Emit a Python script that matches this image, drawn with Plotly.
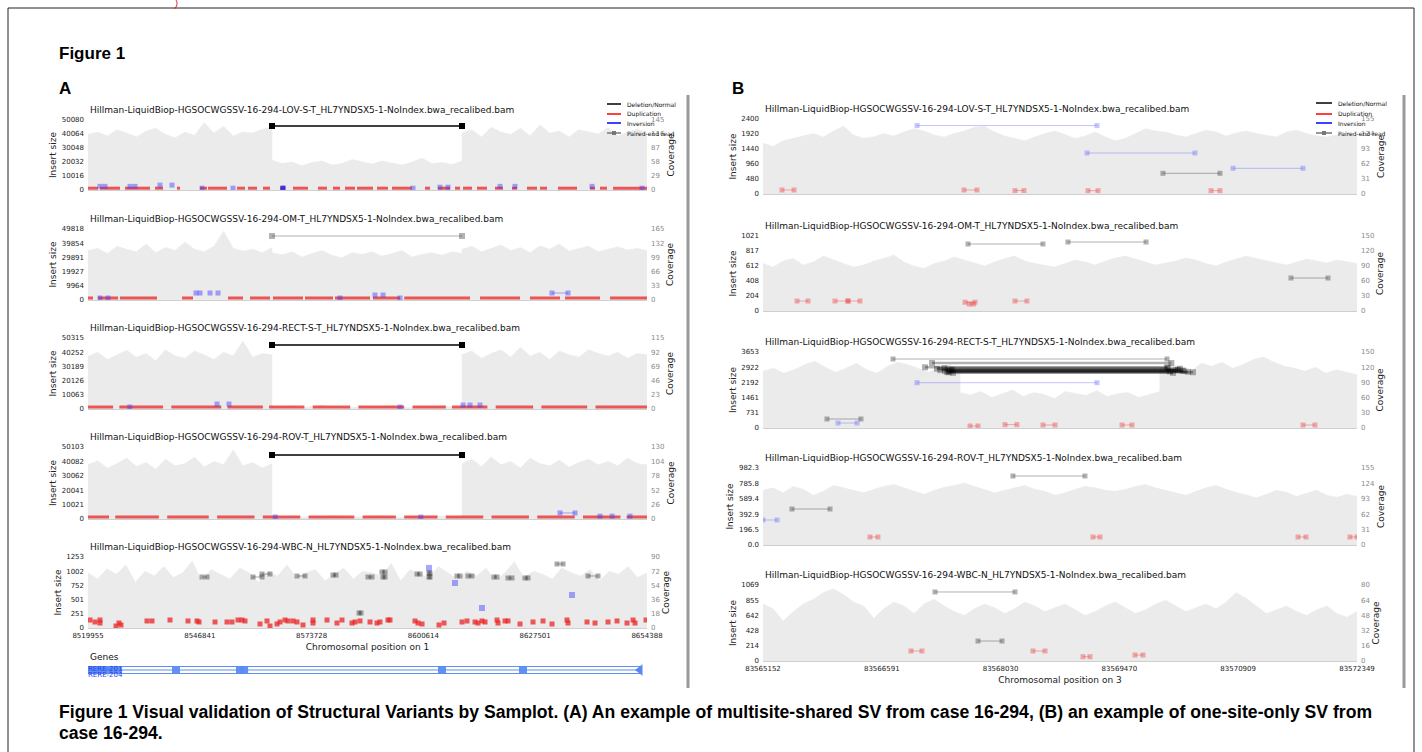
import plotly.graph_objects as go
import numpy as np

W, H = 1422, 752

# ---------------- data ----------------
NAME_PREFIX = "Hillman-LiquidBiop-HGSOCWGSSV-16-294-"
NAME_SUFFIX = "_HL7YNDSX5-1-NoIndex.bwa_recalibed.bam"
SAMPLES = ["LOV-S-T", "OM-T", "RECT-S-T", "ROV-T", "WBC-N"]

A_RANGE = [8519955, 8654388]
B_RANGE = [83565152, 83572349]
A_XTICKS = [8519955, 8546841, 8573728, 8600614, 8627501, 8654388]
B_XTICKS = [83565152, 83566591, 83568030, 83569470, 83570909, 83572349]

A_INS_TICKS = [[0, 10016, 20032, 30048, 40064, 50080],
               [0, 9964, 19927, 29891, 39854, 49818],
               [0, 10063, 20126, 30189, 40252, 50315],
               [0, 10021, 20041, 30062, 40082, 50103],
               [0, 251, 501, 752, 1002, 1253]]
A_COV_TICKS = [[0, 29, 58, 87, 116, 145],
               [0, 33, 66, 99, 132, 165],
               [0, 23, 46, 69, 92, 115],
               [0, 26, 52, 78, 104, 130],
               [0, 18, 36, 54, 72, 90]]
B_INS_TICKS = [[0, 480, 960, 1440, 1920, 2400],
               [0, 204, 408, 612, 817, 1021],
               [0, 731, 1461, 2192, 2922, 3653],
               [0.0, 196.5, 392.9, 589.4, 785.8, 982.3],
               [0, 214, 428, 642, 855, 1069]]
B_INS_LABELS = [None, None, None, ["0.0", "196.5", "392.9", "589.4", "785.8", "982.3"], None]
B_COV_TICKS = [[0, 31, 62, 93, 124, 155],
               [0, 30, 60, 90, 120, 150],
               [0, 30, 60, 90, 120, 150],
               [0, 31, 62, 93, 124, 155],
               [0, 16, 32, 48, 64, 80]]

# shared deletion in panel A
A_DEL = [8564207, 8609902]
A_DEL_INS = [45786, 44906, 45354, 44536]

# coverage (left of / inside / right of the deletion) for A1..A4
A_COV = [
    ([115, 120, 112, 125, 118, 110, 122, 128, 115, 108, 120, 113, 140, 118, 132, 112, 120, 118, 126, 130],
     [62, 55, 58, 50, 57, 60, 52, 55, 63, 58, 54, 60, 56, 52, 58, 66, 55, 57, 53, 60],
     [118, 125, 110, 130, 120, 115, 128, 112, 135, 118, 122, 110, 125, 120, 116, 130, 112, 120, 126, 118]),
    ([115, 120, 108, 125, 118, 112, 130, 110, 122, 115, 135, 118, 112, 125, 160, 120, 114, 118, 110, 122],
     [110, 105, 112, 100, 108, 115, 104, 98, 110, 106, 112, 102, 108, 115, 100, 106, 110, 104, 112, 108],
     [118, 125, 112, 120, 128, 115, 122, 110, 126, 118, 130, 114, 120, 125, 112, 118, 124, 116, 120, 115]),
    ([85, 92, 80, 88, 95, 84, 90, 78, 96, 86, 82, 94, 88, 80, 92, 86, 110, 84, 90, 88],
     [4, 3, 5, 2, 4, 6, 3, 4, 2, 5, 3, 4, 5, 3, 2, 4, 3, 5, 4, 3],
     [88, 94, 82, 90, 96, 84, 100, 86, 92, 80, 94, 88, 84, 96, 90, 86, 92, 82, 90, 88]),
    ([98, 105, 92, 100, 110, 95, 102, 90, 108, 96, 100, 112, 94, 104, 98, 125, 96, 102, 92, 100],
     [5, 4, 6, 3, 5, 4, 6, 5, 3, 4, 5, 6, 4, 3, 5, 4, 6, 5, 4, 5],
     [100, 108, 95, 112, 98, 104, 92, 110, 100, 96, 106, 94, 102, 108, 98, 104, 96, 110, 100, 98]),
]
A5_COV = [70, 62, 75, 68, 80, 58, 72, 66, 78, 64, 70, 85, 60, 74, 68, 62, 76, 70, 58, 72,
          66, 80, 64, 70, 74, 60, 68, 76, 62, 72, 70, 66, 82, 60, 74, 68, 64, 78, 70, 62,
          72, 66, 76, 60, 70, 84, 64, 72, 68, 62, 76, 70, 66, 74, 60, 72, 68, 78, 64, 70]

# base rows of short reads (start, end) in A1..A4
A_BASE_INS = [1300, 1400, 1400, 1400]
A_BASE_SEGS = [
    [(8519955, 8522360), (8522841, 8527651), (8528854, 8534866), (8536069, 8537993), (8541360, 8542081),
     (8546891, 8548575), (8548815, 8553385), (8555790, 8557714), (8558435, 8560600), (8562043, 8563726),
     (8566131, 8567334), (8569258, 8572865), (8575270, 8577435), (8578878, 8580561), (8581764, 8584169),
     (8584650, 8588498), (8589460, 8592105), (8593067, 8597877), (8601004, 8602206), (8604130, 8607016),
     (8608219, 8609421), (8610143, 8612307), (8613509, 8615915), (8617838, 8619762), (8621927, 8623129),
     (8625534, 8627940), (8628661, 8630345), (8632990, 8637560), (8640686, 8641889), (8643091, 8644775),
     (8646218, 8654395)],
    [(8519955, 8521157), (8522360, 8527170), (8527651, 8536550), (8542562, 8545208), (8553625, 8557233),
     (8558916, 8563726), (8564448, 8571663), (8572144, 8578878), (8579359, 8587776), (8588498, 8594991),
     (8596000, 8611826), (8614231, 8623851), (8626256, 8633471), (8634674, 8643091), (8645496, 8654395)],
    [(8519955, 8526000), (8527500, 8538000), (8540000, 8552000), (8553500, 8562000), (8563500, 8572000),
     (8574000, 8583000), (8585000, 8596000), (8598000, 8606000), (8607500, 8616000), (8618000, 8627000),
     (8629000, 8640000), (8642000, 8654395)],
    [(8519955, 8525000), (8526500, 8537000), (8539000, 8549000), (8551000, 8560000), (8562000, 8571000),
     (8573000, 8584000), (8586000, 8594000), (8596000, 8604000), (8606000, 8615000), (8617000, 8626000),
     (8628000, 8637000), (8639000, 8648000), (8649500, 8654395)],
]
# inversion reads (x, insert) in A1..A4
A_INV_PTS = [
    [(8522841, 2600), (8524044, 2600), (8530056, 2600), (8531258, 2600), (8537271, 3500), (8540157, 3500),
     (8547372, 1300), (8554828, 1300), (8566853, 1300), (8598118, 1300), (8604611, 2000), (8606535, 2000),
     (8619041, 2600), (8622649, 2600), (8641167, 2600), (8653192, 1300)],
    [(8545929, 4900), (8546891, 4900), (8549296, 4900), (8551220, 4900), (8588979, 3500), (8590903, 3500),
     (8522841, 1400), (8524765, 1400), (8580561, 1400), (8594991, 1400)],
    [(8550980, 3500), (8553866, 3500), (8610143, 2800), (8611826, 2800), (8614231, 2800), (8594991, 1400),
     (8530000, 1400)],
    [(8643091, 2000), (8646000, 2000), (8650300, 2000), (8600000, 1400), (8565000, 1400)],
]
A_INV_PAIRS = [[], [(8631547, 8635395, 4900)], [], [(8633471, 8637079, 4200)]]

# A5 (WBC-N)
A5_DUP_X = [8520436, 8521639, 8522841, 8522841, 8526689, 8527411, 8527892, 8534145, 8535347, 8539676,
            8544005, 8546170, 8546651, 8550499, 8553385, 8554587, 8556030, 8556992, 8557714, 8561321,
            8563005, 8563726, 8565410, 8566131, 8567334, 8568055, 8569258, 8570220, 8571663, 8574068,
            8574068, 8577435, 8579840, 8581042, 8583447, 8584169, 8585371, 8587776, 8589460, 8590181,
            8592105, 8592586, 8598599, 8599320, 8600282, 8604371, 8605573, 8609902, 8611105, 8613029,
            8613750, 8614712, 8615434, 8618320, 8618560, 8620244, 8620965, 8623851, 8626978, 8629383,
            8631547, 8635155, 8635395, 8639965, 8641889, 8645015, 8647180, 8649585, 8651028, 8651509,
            8654154]
A5_DUP_Y = [141, 106, 141, 88, 35, 88, 53, 124, 124, 141, 124, 124, 106, 106, 106, 106, 141, 141, 124, 71,
            124, 35, 71, 106, 141, 124, 124, 106, 53, 141, 88, 141, 88, 141, 88, 106, 124, 106, 88, 106,
            141, 141, 124, 88, 71, 53, 88, 106, 124, 106, 88, 124, 106, 141, 88, 124, 124, 71, 106, 124,
            71, 141, 88, 106, 88, 106, 124, 88, 141, 88, 141]
A5_PE = [(8547372, 8548575, 900), (8559638, 8561802, 900), (8561802, 8563726, 953), (8570220, 8572144, 918),
         (8578878, 8579600, 935), (8587295, 8588257, 900), (8590662, 8591384, 988), (8590900, 8591384, 900),
         (8599080, 8599801, 953), (8601966, 8602206, 970), (8601966, 8602206, 900), (8608700, 8609421, 918),
         (8611345, 8612307, 918), (8617598, 8618320, 900), (8620965, 8621927, 883), (8625054, 8625775, 883),
         (8632750, 8634193, 1130), (8640205, 8642610, 918), (8585130, 8585610, 265)]
A5_INV = [(8601966, 1060), (8608219, 794), (8614712, 353), (8636357, 582)]

# genes track (panel A)
GENE_SPAN = [8519955, 8652711]
GENE_EXONS = [8520400, 8521500, 8522600, 8523700, 8524800, 8526000, 8527200,
              8541119, 8556500, 8557500, 8605092, 8624573]
GENE_LABEL = "RERE-218"
GENE_LABEL_POS = 8556000

# panel B coverage
B_COV = [
    [105, 98, 110, 115, 120, 125, 118, 130, 140, 122, 115, 118, 125, 120, 128, 135, 130, 122, 118, 125,
     130, 138, 140, 128, 120, 115, 110, 118, 125, 130, 122, 115, 120, 128, 118, 110, 115, 125, 135, 130,
     128, 122, 118, 125, 132, 128, 120, 126, 130, 125, 122, 118, 128, 132, 125, 120, 118, 122, 126, 120],
    [95, 88, 100, 105, 92, 98, 110, 102, 95, 88, 92, 100, 105, 112, 98, 90, 85, 95, 100, 108,
     102, 96, 90, 98, 105, 110, 100, 95, 92, 88, 95, 102, 98, 92, 100, 106, 110, 104, 98, 92,
     96, 100, 106, 102, 95, 90, 98, 104, 110, 105, 100, 96, 92, 98, 104, 100, 96, 102, 98, 95],
    None,
    [110, 115, 105, 118, 112, 100, 108, 120, 115, 110, 105, 112, 118, 122, 115, 108, 102, 110, 116, 120,
     125, 118, 112, 105, 110, 115, 120, 112, 108, 100, 105, 112, 118, 115, 110, 108, 112, 118, 122, 115,
     110, 105, 100, 108, 115, 120, 112, 106, 100, 95, 102, 110, 106, 98, 104, 110, 100, 96, 102, 98],
    [60, 55, 42, 52, 60, 65, 72, 76, 70, 62, 58, 45, 55, 62, 58, 50, 60, 65, 58, 52,
     48, 55, 60, 56, 50, 55, 62, 58, 52, 56, 60, 54, 48, 52, 58, 62, 56, 50, 54, 60,
     64, 58, 52, 56, 60, 55, 62, 72, 66, 58, 50, 54, 58, 52, 48, 54, 58, 50, 46, 52],
]
B3_BREAKS = [83567540, 83569960]
B3_COV = ([112, 118, 108, 115, 125, 132, 120, 110, 118, 128, 115, 108, 122, 130, 125, 118, 110, 120, 125, 112],
          [70, 65, 72, 60, 68, 75, 62, 70, 66, 58, 72, 68, 64, 74, 62, 68, 70, 60, 66, 72],
          [118, 125, 120, 112, 128, 122, 130, 118, 125, 135, 140, 130, 122, 118, 112, 120, 108, 115, 110, 105])

# panel B read pairs: (start, end, insert)
B_DEL = [[(83569998, 83570689, 662)],
         [(83567636, 83568544, 912), (83568847, 83569793, 939), (83571549, 83571998, 449)],
         [(83566727, 83570047, 3317), (83565927, 83566339, 433)],
         [(83565503, 83565964, 459), (83568180, 83569053, 880)],
         [(83567236, 83568205, 971), (83567757, 83568048, 281)]]
B_INV = [[(83567018, 83569199, 2190), (83569078, 83570386, 1312), (83570847, 83571695, 822)],
         [],
         [(83567018, 83569199, 2178), (83566061, 83566291, 240)],
         [(83565152, 83565322, 319)],
         []]
B_DUP = [[(83565382, 83565528, 128), (83567587, 83567745, 128), (83568205, 83568314, 110),
          (83569090, 83569211, 106), (83570580, 83570689, 106)],
         [(83565564, 83565697, 136), (83566024, 83566182, 136), (83566182, 83566327, 136),
          (83567600, 83567721, 120), (83567650, 83567700, 95), (83568205, 83568350, 136)],
         [(83567660, 83567757, 96), (83568084, 83568229, 160), (83568544, 83568690, 144),
          (83569502, 83569623, 144), (83571695, 83571840, 144)],
         [(83566448, 83566545, 102), (83569150, 83569235, 102), (83571634, 83571731, 102),
          (83572264, 83572349, 102)],
         [(83566945, 83567078, 141), (83568423, 83568569, 141), (83569029, 83569114, 60),
          (83569659, 83569756, 84)]]
# dense deletion-supporting band in B3 (RECT-S-T)
B3_BAND_START = [83567115, 83567200, 83567260, 83567300, 83567357, 83567380, 83567400, 83567420,
                 83567454, 83567440, 83567410, 83567350]
B3_BAND_END = [83570047, 83570100, 83570204, 83570150, 83570250, 83570300, 83570362, 83570080,
               83570120, 83570180, 83570230, 83570060]
B3_BAND_INS = [2918, 3125, 2850, 2780, 2750, 2700, 2680, 2720, 2650, 2800, 2760, 2880]

CAPTION_1 = ("Figure 1 Visual validation of Structural Variants by Samplot. (A) An example of multisite-shared "
             "SV from case 16-294, (B) an example of one-site-only SV from")
CAPTION_2 = "case 16-294."

# ---------------- layout geometry (pixels) ----------------
A_PX = (88, 647)
B_PX = (763, 1357)
A_ROWS = [(120, 190), (229, 300), (338, 409), (447, 519), (557, 628)]
B_ROWS = [(119, 194), (236, 311), (352, 428), (468, 545), (585, 661)]

FONT = "DejaVu Sans"
COV_FILL = "#ebebeb"
RED = "rgba(235,35,35,0.75)"
RED_L = "rgba(235,60,60,0.4)"
BLUE = "rgba(60,60,255,0.45)"
BLUE_D = "rgba(40,40,230,0.8)"
GRAY = "rgba(40,40,40,0.4)"


def ref(prefix, i):
    return prefix if i == 1 else f"{prefix}{i}"


fig = go.Figure()
layout = dict(width=W, height=H, margin=dict(l=0, r=0, t=0, b=0, pad=0, autoexpand=False),
              paper_bgcolor="white", plot_bgcolor="white", showlegend=False,
              font=dict(family=FONT, size=7, color="#222"))
annotations = []
shapes = []


def add_pairs(pairs, color, xa, ya, size=5, width=1):
    xs, ys = [], []
    for s, e, h in pairs:
        xs += [s, e, None]
        ys += [h, h, None]
    fig.add_trace(go.Scatter(x=xs, y=ys, mode="lines+markers", xaxis=xa, yaxis=ya,
                             marker=dict(symbol="square", size=size, color=color, line=dict(width=0)),
                             line=dict(color=color, width=width), hoverinfo="skip"))


def add_segs(segs, h, color, xa, ya, width=3):
    xs, ys = [], []
    for s, e in segs:
        xs += [s, e, None]
        ys += [h, h, None]
    fig.add_trace(go.Scatter(x=xs, y=ys, mode="lines", xaxis=xa, yaxis=ya,
                             line=dict(color=color, width=width), hoverinfo="skip"))


def add_points(pts, color, xa, ya, size=5):
    fig.add_trace(go.Scatter(x=[p[0] for p in pts], y=[p[1] for p in pts], mode="markers",
                             xaxis=xa, yaxis=ya,
                             marker=dict(symbol="square", size=size, color=color, line=dict(width=0)),
                             hoverinfo="skip"))


def add_cov(xs, ys, xa, ya):
    fig.add_trace(go.Scatter(x=xs, y=ys, mode="lines", xaxis=xa, yaxis=ya, fill="tozeroy",
                             fillcolor=COV_FILL, line=dict(color=COV_FILL, width=0.5),
                             hoverinfo="skip"))


for p in range(10):
    side = "A" if p < 5 else "B"
    row = p % 5
    x0, x1 = A_PX if side == "A" else B_PX
    y0, y1 = (A_ROWS if side == "A" else B_ROWS)[row]
    xr = A_RANGE if side == "A" else B_RANGE
    xticks = A_XTICKS if side == "A" else B_XTICKS
    ins_ticks = (A_INS_TICKS if side == "A" else B_INS_TICKS)[row]
    cov_ticks = (A_COV_TICKS if side == "A" else B_COV_TICKS)[row]
    ins_labels = None if side == "A" else B_INS_LABELS[row]
    if ins_labels is None:
        ins_labels = [str(v) for v in ins_ticks]
    xid, cid, iid = p + 1, 2 * p + 1, 2 * p + 2
    xa, ca, ia = ref("x", xid), ref("y", cid), ref("y", iid)
    bottom = row == 4

    xaxis = dict(domain=[x0 / W, x1 / W], anchor=ca, range=xr, showgrid=False, zeroline=False,
                 showline=True, linecolor="#cfcfcf", linewidth=1, ticks="", automargin=False,
                 showticklabels=bottom, tickvals=xticks, ticktext=[str(v) for v in xticks],
                 tickfont=dict(size=7, color="#222"), ticklabelstandoff=1)
    if bottom:
        xaxis["title"] = dict(text="Chromosomal position on " + ("1" if side == "A" else "3"),
                              font=dict(size=9, color="#222"), standoff=4)
    layout[ref("xaxis", xid)] = xaxis
    layout[ref("yaxis", cid)] = dict(domain=[1 - y1 / H, 1 - y0 / H], anchor=xa, side="right",
                                     range=[0, cov_ticks[-1]], tickvals=cov_ticks,
                                     ticktext=[str(v) for v in cov_ticks], automargin=False,
                                     tickfont=dict(size=7, color="#8a8a8a"), showgrid=False,
                                     zeroline=False, showline=False, ticks="", ticklabelstandoff=3,
                                     title=dict(text="Coverage", font=dict(size=9, color="#222"),
                                                standoff=3))
    layout[ref("yaxis", iid)] = dict(overlaying=ca, anchor=xa, side="left", automargin=False,
                                     range=[0, ins_ticks[-1]], tickvals=ins_ticks, ticktext=ins_labels,
                                     tickfont=dict(size=7, color="#222"), showgrid=False,
                                     zeroline=False, showline=False, ticks="", ticklabelstandoff=3,
                                     title=dict(text="Insert size", font=dict(size=9, color="#222"),
                                                standoff=3))

    # title
    annotations.append(dict(x=x0 / W, y=1 - (y0 - 10) / H, xref="paper", yref="paper",
                            xanchor="left", yanchor="middle", showarrow=False,
                            text=NAME_PREFIX + SAMPLES[row] + NAME_SUFFIX,
                            font=dict(size=9, color="#111", family=FONT)))

    # coverage
    if side == "A" and row < 4:
        L, M, R = A_COV[row]
        xs = list(np.linspace(A_RANGE[0], A_DEL[0], len(L))) + \
            list(np.linspace(A_DEL[0], A_DEL[1], len(M))) + \
            list(np.linspace(A_DEL[1], A_RANGE[1], len(R)))
        add_cov(xs, L + M + R, xa, ca)
    elif side == "A":
        add_cov(list(np.linspace(A_RANGE[0], A_RANGE[1], len(A5_COV))), A5_COV, xa, ca)
    elif row == 2:
        L, M, R = B3_COV
        xs = list(np.linspace(B_RANGE[0], B3_BREAKS[0], len(L))) + \
            list(np.linspace(B3_BREAKS[0], B3_BREAKS[1], len(M))) + \
            list(np.linspace(B3_BREAKS[1], B_RANGE[1], len(R)))
        add_cov(xs, L + M + R, xa, ca)
    else:
        vals = B_COV[row]
        add_cov(list(np.linspace(B_RANGE[0], B_RANGE[1], len(vals))), vals, xa, ca)

    # reads
    if side == "A" and row < 4:
        add_segs(A_BASE_SEGS[row], A_BASE_INS[row], RED, xa, ia, width=3)
        add_points(A_INV_PTS[row], BLUE, xa, ia, size=5)
        if A_INV_PAIRS[row]:
            add_pairs(A_INV_PAIRS[row], BLUE, xa, ia)
        if row == 0:
            add_points([A_INV_PTS[0][8]], BLUE_D, xa, ia, size=5)
        dcol = "rgba(0,0,0,0.3)" if row == 1 else "#000000"
        dw = 1 if row == 1 else 1.5
        add_pairs([(A_DEL[0], A_DEL[1], A_DEL_INS[row])], dcol, xa, ia, size=6, width=dw)
    elif side == "A":
        add_points(list(zip(A5_DUP_X, A5_DUP_Y)), RED, xa, ia, size=5)
        add_pairs(A5_PE, GRAY, xa, ia, size=5, width=1)
        add_points(A5_INV, BLUE, xa, ia, size=6)
    else:
        add_pairs(B_DUP[row], RED_L, xa, ia, size=5, width=1)
        add_pairs(B_INV[row], "rgba(90,90,255,0.35)", xa, ia, size=5, width=1)
        add_pairs(B_DEL[row], "rgba(60,60,60,0.4)", xa, ia, size=5, width=1)
        if row == 2:
            band = list(zip(B3_BAND_START, B3_BAND_END, B3_BAND_INS))
            add_pairs(band, "rgba(0,0,0,0.3)", xa, ia, size=6, width=2.5)

# ---------------- genes track ----------------
layout["xaxis11"] = dict(domain=[A_PX[0] / W, A_PX[1] / W], anchor="y21", range=A_RANGE, visible=False)
layout["yaxis21"] = dict(domain=[1 - 678 / H, 1 - 662 / H], anchor="x11", range=[0, 1], visible=False)
GENE_BLUE = "rgba(80,130,240,0.9)"
for lvl in [0.28, 0.5, 0.72]:
    fig.add_trace(go.Scatter(x=GENE_SPAN, y=[lvl, lvl], mode="lines", xaxis="x11", yaxis="y21",
                             line=dict(color=GENE_BLUE, width=1.2), hoverinfo="skip"))
fig.add_trace(go.Scatter(x=GENE_EXONS, y=[0.5] * len(GENE_EXONS), mode="markers", xaxis="x11", yaxis="y21",
                         marker=dict(symbol="square", size=8, color="rgba(90,140,240,0.95)"),
                         hoverinfo="skip"))
fig.add_trace(go.Scatter(x=[GENE_SPAN[1]], y=[0.5], mode="markers", xaxis="x11", yaxis="y21",
                         marker=dict(symbol="triangle-left", size=10, color="rgba(80,130,240,0.95)"),
                         hoverinfo="skip"))
fig.add_trace(go.Scatter(x=[GENE_LABEL_POS], y=[0.95], mode="text", text=[GENE_LABEL],
                         textposition="top right", xaxis="x11", yaxis="y21",
                         textfont=dict(size=7, color="#3a5ff0", family=FONT), hoverinfo="skip"))
fig.add_trace(go.Scatter(x=[A_RANGE[0], A_RANGE[0]], y=[0.55, 0.2], mode="text",
                         text=["RERE-201", "RERE-204"], textposition="middle right",
                         xaxis="x11", yaxis="y21",
                         textfont=dict(size=7, color="#2a3ff0", family=FONT), hoverinfo="skip"))
annotations.append(dict(x=88 / W, y=1 - 657 / H, xref="paper", yref="paper", xanchor="left",
                        yanchor="middle", showarrow=False, text="Genes",
                        font=dict(size=9, color="#111", family=FONT)))

# ---------------- manual legends ----------------
LEG_ITEMS = [("Deletion/Normal", "#000000"), ("Duplication", "#ff0000"),
             ("Inversion", "#0000ff"), ("Paired-end read", "#777777")]


def legend(xl0, xl1, xt, ys):
    for (lab, col), y in zip(LEG_ITEMS, ys):
        shapes.append(dict(type="line", xref="paper", yref="paper", x0=xl0 / W, x1=xl1 / W,
                           y0=1 - y / H, y1=1 - y / H, line=dict(color=col, width=1.5)))
        if lab.startswith("Paired"):
            xc = (xl0 + xl1) / 2
            shapes.append(dict(type="rect", xref="paper", yref="paper", x0=(xc - 2) / W, x1=(xc + 2) / W,
                               y0=1 - (y + 2) / H, y1=1 - (y - 2) / H, fillcolor="#777777",
                               line=dict(width=0)))
        annotations.append(dict(x=xt / W, y=1 - y / H, xref="paper", yref="paper", xanchor="left",
                                yanchor="middle", showarrow=False, text=lab,
                                font=dict(size=6, color="#111", family=FONT)))


legend(607, 621, 625, [104, 114, 123, 133])
legend(1316, 1332, 1336, [103, 114, 123, 133])

# ---------------- figure decorations ----------------
BOLD = "Liberation Sans"
deco = [
    dict(x=57 / W, y=1 - 54 / H, text="<b>Figure 1</b>", font=dict(size=17, family=BOLD, color="#000")),
    dict(x=57 / W, y=1 - 88 / H, text="<b>A</b>", font=dict(size=17, family=BOLD, color="#000")),
    dict(x=730 / W, y=1 - 88 / H, text="<b>B</b>", font=dict(size=17, family=BOLD, color="#000")),
    dict(x=57 / W, y=1 - 712 / H, text="<b>" + CAPTION_1 + "</b>", font=dict(size=17.6, family=BOLD, color="#000")),
    dict(x=57 / W, y=1 - 733 / H, text="<b>" + CAPTION_2 + "</b>", font=dict(size=17.6, family=BOLD, color="#000")),
    dict(x=172 / W, y=1 - 4 / H, text="<i>)</i>", font=dict(size=9, family=BOLD, color="#d00000")),
]
for a in deco:
    a.update(xref="paper", yref="paper", xanchor="left", yanchor="middle", showarrow=False)
annotations += deco

shapes += [
    dict(type="line", xref="paper", yref="paper", x0=688 / W, x1=688 / W, y0=1 - 688 / H, y1=1 - 95 / H,
         line=dict(color="#9a9a9a", width=3)),
    dict(type="line", xref="paper", yref="paper", x0=1404 / W, x1=1404 / W, y0=1 - 688 / H, y1=1 - 95 / H,
         line=dict(color="#9a9a9a", width=3)),
    dict(type="line", xref="paper", yref="paper", x0=8 / W, x1=1414 / W, y0=1 - 8 / H, y1=1 - 8 / H,
         line=dict(color="#222", width=1)),
    dict(type="line", xref="paper", yref="paper", x0=8 / W, x1=8 / W, y0=0, y1=1 - 8 / H,
         line=dict(color="#222", width=1)),
    dict(type="line", xref="paper", yref="paper", x0=1414 / W, x1=1414 / W, y0=0, y1=1 - 8 / H,
         line=dict(color="#222", width=1)),
]

layout["annotations"] = annotations
layout["shapes"] = shapes
fig.update_layout(**layout)
fig.write_html("out.html", config={"displayModeBar": False},
               post_script="document.body.style.margin='0';")
